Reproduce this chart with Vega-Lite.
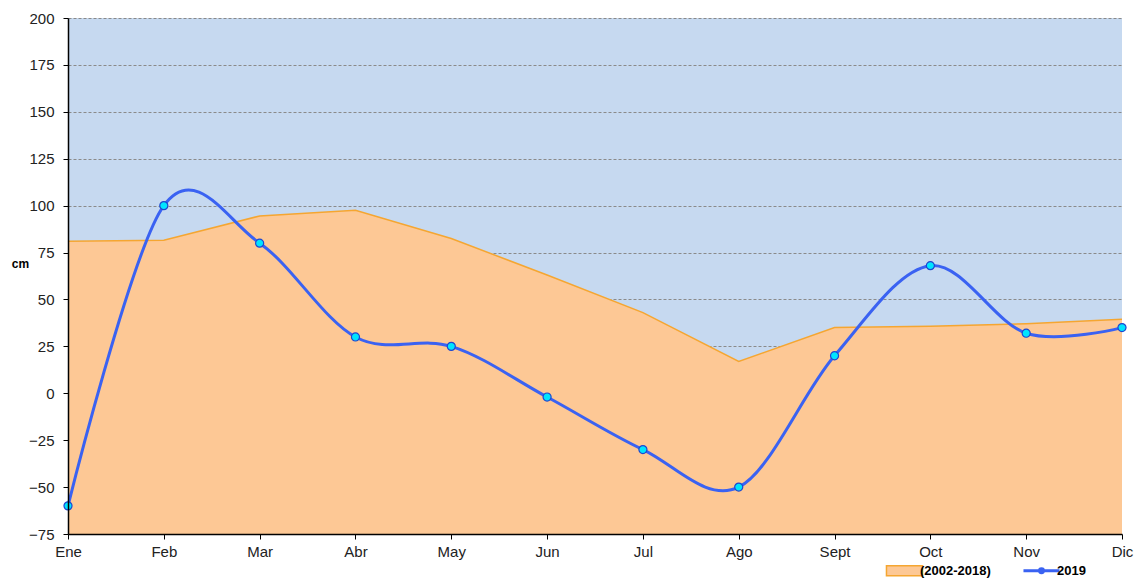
{
  "$schema": "https://vega.github.io/schema/vega-lite/v6.json",
  "autosize": "none",
  "width": 1054,
  "height": 516,
  "padding": {"left": 68, "top": 18, "right": 19, "bottom": 48},
  "background": "white",
  "config": {
    "view": {"fill": "#C6D9F0", "stroke": null},
    "axis": {
      "labelFont": "Liberation Sans",
      "labelFontSize": 15,
      "labelColor": "#222222",
      "domainColor": "#000000",
      "domainWidth": 1.5,
      "tickColor": "#000000",
      "tickSize": 5,
      "gridColor": "#8A8A8A",
      "gridDash": [3, 2],
      "gridWidth": 1
    }
  },
  "data": {
    "values": [
      {"mes": "Ene", "serie": "(2002-2018)", "valor": 81},
      {"mes": "Feb", "serie": "(2002-2018)", "valor": 81.5},
      {"mes": "Mar", "serie": "(2002-2018)", "valor": 94.5},
      {"mes": "Abr", "serie": "(2002-2018)", "valor": 97.5},
      {"mes": "May", "serie": "(2002-2018)", "valor": 82.5},
      {"mes": "Jun", "serie": "(2002-2018)", "valor": 63},
      {"mes": "Jul", "serie": "(2002-2018)", "valor": 43},
      {"mes": "Ago", "serie": "(2002-2018)", "valor": 17},
      {"mes": "Sept", "serie": "(2002-2018)", "valor": 35},
      {"mes": "Oct", "serie": "(2002-2018)", "valor": 35.7},
      {"mes": "Nov", "serie": "(2002-2018)", "valor": 37},
      {"mes": "Dic", "serie": "(2002-2018)", "valor": 39.4},
      {"mes": "Ene", "serie": "2019", "valor": -60},
      {"mes": "Feb", "serie": "2019", "valor": 100},
      {"mes": "Mar", "serie": "2019", "valor": 80},
      {"mes": "Abr", "serie": "2019", "valor": 30},
      {"mes": "May", "serie": "2019", "valor": 25},
      {"mes": "Jun", "serie": "2019", "valor": -2},
      {"mes": "Jul", "serie": "2019", "valor": -30},
      {"mes": "Ago", "serie": "2019", "valor": -50},
      {"mes": "Sept", "serie": "2019", "valor": 20},
      {"mes": "Oct", "serie": "2019", "valor": 68},
      {"mes": "Nov", "serie": "2019", "valor": 32},
      {"mes": "Dic", "serie": "2019", "valor": 35}
    ]
  },
  "resolve": {"axis": {"x": "independent", "y": "independent"}},
  "layer": [
    {
      "transform": [{"filter": "datum.serie === '(2002-2018)'"}],
      "mark": {"type": "area", "fill": "#FDC895", "interpolate": "linear"},
      "encoding": {
        "x": {
          "field": "mes", "type": "ordinal",
          "sort": ["Ene","Feb","Mar","Abr","May","Jun","Jul","Ago","Sept","Oct","Nov","Dic"],
          "scale": {"type": "point", "padding": 0},
          "axis": null
        },
        "y": {
          "field": "valor", "type": "quantitative",
          "scale": {"domain": [-75, 200], "nice": false, "zero": false},
          "axis": {"grid": true, "domain": false, "ticks": false, "labels": false, "title": null, "values": [-75,-50,-25,0,25,50,75,100,125,150,175,200], "zindex": 0}
        },
        "y2": {"datum": -75}
      }
    },
    {
      "transform": [{"filter": "datum.serie === '(2002-2018)'"}],
      "mark": {"type": "line", "strokeWidth": 1.5, "interpolate": "linear"},
      "encoding": {
        "x": {"field": "mes", "type": "ordinal", "sort": ["Ene","Feb","Mar","Abr","May","Jun","Jul","Ago","Sept","Oct","Nov","Dic"], "axis": null},
        "y": {"field": "valor", "type": "quantitative", "axis": null},
        "stroke": {
          "field": "serie", "type": "nominal",
          "scale": {"domain": ["(2002-2018)", "2019"], "range": ["#F5A631", "#3A62F2"]},
          "legend": {
            "title": null,
            "orient": "none",
            "direction": "horizontal",
            "legendX": 830,
            "legendY": 546,
            "labelFont": "Liberation Sans",
            "labelFontSize": 13,
            "labelFontWeight": "bold",
            "labelColor": "#000000",
            "labelOffset": 9,
            "columnPadding": 26,
            "symbolSize": 1300,
            "symbolStrokeWidth": 1.5,
            "encode": {
              "symbols": {
                "update": {
                  "shape": {"signal": "datum.value === '2019' ? 'M-1,0H1M0.11,0A0.11,0.11 0 1 1 -0.11,0A0.11,0.11 0 1 1 0.11,0Z' : 'M-1,-0.28H1V0.28H-1Z'"},
                  "fill": {"signal": "datum.value === '2019' ? '#00D8FF' : '#FDC895'"},
                  "fillOpacity": {"value": 1},
                  "strokeWidth": {"signal": "datum.value === '2019' ? 3 : 1.5"}
                }
              }
            }
          }
        }
      }
    },
    {
      "transform": [{"filter": "datum.serie === '2019'"}],
      "mark": {"type": "line", "strokeWidth": 3, "interpolate": "cardinal"},
      "encoding": {
        "x": {"field": "mes", "type": "ordinal", "sort": ["Ene","Feb","Mar","Abr","May","Jun","Jul","Ago","Sept","Oct","Nov","Dic"], "axis": null},
        "y": {"field": "valor", "type": "quantitative", "axis": null},
        "stroke": {"field": "serie", "type": "nominal"}
      }
    },
    {
      "transform": [{"filter": "datum.serie === '2019'"}],
      "mark": {"type": "point", "filled": true, "fill": "#00E5FF", "stroke": "#1F45D0", "strokeWidth": 1.2, "size": 65, "opacity": 1},
      "encoding": {
        "x": {
          "field": "mes", "type": "ordinal",
          "sort": ["Ene","Feb","Mar","Abr","May","Jun","Jul","Ago","Sept","Oct","Nov","Dic"],
          "axis": {"title": null, "labelAngle": 0, "labelPadding": 5, "grid": false, "zindex": 1}
        },
        "y": {
          "field": "valor", "type": "quantitative",
          "axis": {
            "orient": "left", "grid": false, "zindex": 1,
            "values": [-75,-50,-25,0,25,50,75,100,125,150,175,200],
            "labelPadding": 9,
            "title": "cm",
            "titleAngle": 0,
            "titleFont": "Liberation Sans",
            "titleFontSize": 12,
            "titleFontWeight": "bold",
            "titleColor": "#000000",
            "titleAlign": "center",
            "titleBaseline": "middle",
            "titleX": -48,
            "titleY": 245
          }
        }
      }
    }
  ]
}
